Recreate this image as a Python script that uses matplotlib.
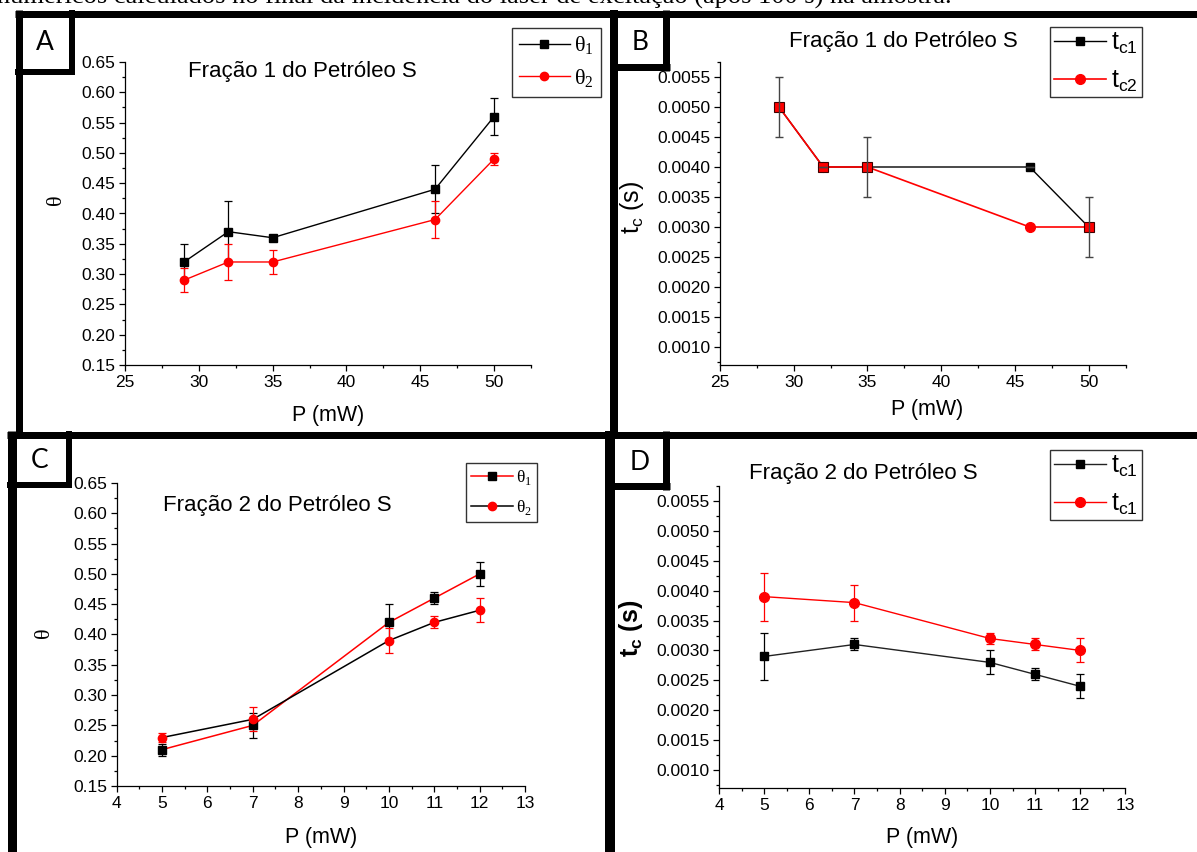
import matplotlib
matplotlib.use("Agg")
import matplotlib.pyplot as plt
from matplotlib.ticker import MultipleLocator, FormatStrFormatter

W, H = 1197, 852

# Fração 1 - theta
P1 = [29, 32, 35, 46, 50]
theta1_f1 = [0.32, 0.37, 0.36, 0.44, 0.56]
theta1_f1_err = [0.03, 0.05, 0.0, 0.04, 0.03]
theta2_f1 = [0.29, 0.32, 0.32, 0.39, 0.49]
theta2_f1_err = [0.02, 0.03, 0.02, 0.03, 0.01]

# Fração 1 - tc
tc1_f1 = [0.0050, 0.0040, 0.0040, 0.0040, 0.0030]
tc1_f1_err = [0.0005, 0.0, 0.0005, 0.0, 0.0005]
tc2_f1 = [0.0050, 0.0040, 0.0040, 0.0030, 0.0030]

# Fração 2 - theta
P2 = [5, 7, 10, 11, 12]
theta1_f2 = [0.21, 0.25, 0.42, 0.46, 0.50]
theta1_f2_err = [0.01, 0.02, 0.03, 0.01, 0.02]
theta2_f2 = [0.23, 0.26, 0.39, 0.42, 0.44]
theta2_f2_err = [0.008, 0.02, 0.02, 0.01, 0.02]

# Fração 2 - tc
tc1_f2 = [0.0029, 0.0031, 0.0028, 0.0026, 0.0024]
tc1_f2_err = [0.0004, 0.0001, 0.0002, 0.0001, 0.0002]
tc2_f2 = [0.0039, 0.0038, 0.0032, 0.0031, 0.0030]
tc2_f2_err = [0.0004, 0.0003, 0.0001, 0.0001, 0.0002]

plt.rcParams['font.family'] = ['Liberation Sans', 'DejaVu Sans']
RED = '#ff0000'
SERIF = ['Liberation Serif', 'DejaVu Serif']

fig = plt.figure(figsize=(W / 100, H / 100), dpi=100)


def add_panel(left, top, right, bottom):
    ax = fig.add_axes([left / W, 1 - bottom / H, (right - left) / W, (bottom - top) / H])
    ax._box = (left, top, right, bottom)
    return ax


def px_to_ax(ax, px, py):
    l, t, r, b = ax._box
    return (px - l) / (r - l), (b - py) / (b - t)


def style(ax, xlim, ylim, xmaj, ymaj, yfmt):
    ax.set_xlim(xlim)
    ax.set_ylim(ylim)
    ax.xaxis.set_major_locator(MultipleLocator(xmaj))
    ax.xaxis.set_minor_locator(MultipleLocator(xmaj / 2))
    ax.yaxis.set_major_locator(MultipleLocator(ymaj))
    ax.yaxis.set_minor_locator(MultipleLocator(ymaj / 2))
    ax.yaxis.set_major_formatter(FormatStrFormatter(yfmt))
    ax.xaxis.set_major_formatter(FormatStrFormatter('%d'))
    for s in ['top', 'right']:
        ax.spines[s].set_visible(False)
    for s in ['left', 'bottom']:
        ax.spines[s].set_linewidth(0.9)
    ax.tick_params(which='major', direction='out', length=4, width=0.9, labelsize=12.5, pad=3)
    ax.tick_params(which='minor', direction='out', length=2.5, width=0.9)
    ax.patch.set_alpha(0)


def labels(ax, xl_pos, yl_text, yl_pos, yl_family=None, yl_size=15, yl_weight='normal'):
    ax.set_xlabel('P (mW)', fontsize=15.5, va='center', ha='center')
    ax.xaxis.set_label_coords(*px_to_ax(ax, *xl_pos))
    kw = {}
    if yl_family:
        kw['family'] = yl_family
    ax.set_ylabel(yl_text, fontsize=yl_size, va='center', ha='center', weight=yl_weight, **kw)
    ax.yaxis.set_label_coords(*px_to_ax(ax, *yl_pos))


def legend(ax, x0, y0, size, family=None, **kw):
    prop = {'size': size}
    if family:
        prop['family'] = family
    lg = ax.legend(loc='upper left', bbox_to_anchor=(x0 / W, 1 - y0 / H),
                   bbox_transform=fig.transFigure, borderaxespad=0, frameon=True,
                   fancybox=False, edgecolor='#333333', framealpha=1, prop=prop, **kw)
    lg.get_frame().set_linewidth(1.0)
    return lg


# ---------- A ----------
axA = add_panel(125, 62, 531, 365)
style(axA, (25, 52.5), (0.15, 0.65), 5, 0.05, '%.2f')
axA.errorbar(P1, theta1_f1, yerr=theta1_f1_err, fmt='none', ecolor='black', elinewidth=0.9, capsize=3, capthick=0.9)
axA.errorbar(P1, theta2_f1, yerr=theta2_f1_err, fmt='none', ecolor=RED, elinewidth=0.9, capsize=3, capthick=0.9)
axA.plot(P1, theta1_f1, color='black', lw=1.0, marker='s', ms=5.5, label='θ$_\\mathregular{1}$')
axA.plot(P1, theta2_f1, color=RED, lw=1.0, marker='o', ms=6, label='θ$_\\mathregular{2}$')
labels(axA, (328, 416), 'θ', (57, 200), SERIF, yl_size=16)
legend(axA, 512, 28, 16, SERIF, handlelength=2.3, handletextpad=0.2, labelspacing=0.45,
       borderpad=0.3)

# ---------- B ----------
axB = add_panel(720, 62, 1125.5, 365)
style(axB, (25, 52.5), (0.0007, 0.00575), 5, 0.0005, '%.4f')
axB.plot(P1, tc1_f1, color='black', lw=1.0, marker='s', ms=6, label='t$_\\mathregular{c1}$')
axB.plot(P1, tc2_f1, color=RED, lw=1.2, marker='o', ms=7, label='t$_\\mathregular{c2}$')
same = [i for i in range(len(P1)) if tc1_f1[i] == tc2_f1[i]]
axB.plot([P1[i] for i in same], [tc1_f1[i] for i in same], ls='none', marker='s', ms=7,
         mfc=RED, mec='#400000', mew=0.8)
axB.errorbar(P1, tc1_f1, yerr=tc1_f1_err, fmt='none', ecolor='#444444', elinewidth=1.0, capsize=3, capthick=1.0)
labels(axB, (927.5, 409), 't$_\\mathregular{c}$ (s)', (632, 207), yl_size=18)
legend(axB, 1050, 27, 18, handlelength=2.1, handletextpad=0.2, labelspacing=0.5, borderpad=0.15)

# ---------- C ----------
axC = add_panel(116.7, 483, 525, 786)
style(axC, (4, 13), (0.15, 0.65), 1, 0.05, '%.2f')
axC.errorbar(P2, theta1_f2, yerr=theta1_f2_err, fmt='none', ecolor='black', elinewidth=0.9, capsize=3, capthick=0.9)
axC.errorbar(P2, theta2_f2, yerr=theta2_f2_err, fmt='none', ecolor=RED, elinewidth=0.9, capsize=3, capthick=0.9)
axC.plot(P2, theta1_f2, color=RED, lw=1.1, marker='s', ms=5.5, mfc='black', mec='black', label='θ$_\\mathregular{1}$')
axC.plot(P2, theta2_f2, color='black', lw=1.1, marker='o', ms=6, mfc=RED, mec=RED, label='θ$_\\mathregular{2}$')
labels(axC, (321, 837), 'θ', (44, 633), SERIF, yl_size=16)
legend(axC, 466, 463, 12.5, SERIF, handlelength=2.4, handletextpad=0.2, labelspacing=0.6, borderpad=0.3)

# ---------- D ----------
axD = add_panel(719, 486, 1125.4, 788)
style(axD, (4, 13), (0.0007, 0.00575), 1, 0.0005, '%.4f')
axD.errorbar(P2, tc1_f2, yerr=tc1_f2_err, fmt='none', ecolor='black', elinewidth=0.9, capsize=3, capthick=0.9)
axD.errorbar(P2, tc2_f2, yerr=tc2_f2_err, fmt='none', ecolor=RED, elinewidth=0.9, capsize=3, capthick=0.9)
axD.plot(P2, tc1_f2, color='#222222', lw=1.0, marker='s', ms=6, mfc='black', mec='black', label='t$_\\mathregular{c1}$')
axD.plot(P2, tc2_f2, color=RED, lw=1.0, marker='o', ms=7, label='t$_\\mathregular{c1}$')
labels(axD, (922, 838), 't$_\\mathregular{c}$ (s)', (630.6, 628), yl_size=18, yl_weight='bold')
legend(axD, 1050, 450, 18, handlelength=2.1, handletextpad=0.2, labelspacing=0.5, borderpad=0.15)

# ---------- overlay: frames, panel letters, titles, caption ----------
over = fig.add_axes([0, 0, 1, 1], zorder=10)
over.set_xlim(0, W)
over.set_ylim(H, 0)
over.axis('off')
over.patch.set_visible(False)


def bar(x0, y0, x1, y1, px):
    over.plot([x0, x1], [y0, y1], color='black', lw=px * 0.72, solid_capstyle='butt')


bar(15, 13.5, W, 13.5, 7)        # top line
bar(18.5, 10, 18.5, 434, 7)      # left of A
bar(614, 10, 614, 434, 8)        # A | B
bar(7, 434.5, W, 434.5, 7)       # middle line
bar(12, 431, 12, H, 9)           # left of C
bar(610, 431, 610, H, 10)        # C | D
# letter boxes
bar(72, 10, 72, 75, 6)
bar(15, 72, 75, 72, 6)
bar(666, 10, 666, 71, 7)
bar(610, 67, 670, 67, 7)
bar(68.5, 431, 68.5, 488, 6)
bar(7, 485, 72, 485, 6)
bar(666, 431, 666, 490, 7)
bar(605, 486, 670, 486, 7)

for lt, (x, y) in zip('ABCD', [(45, 43), (640, 43), (40, 461), (640, 462)]):
    over.text(x, y, lt, fontsize=19, ha='center', va='center', family=['Lato', 'DejaVu Sans'])

titles = ['Fração 1 do Petróleo S', 'Fração 1 do Petróleo S',
          'Fração 2 do Petróleo S', 'Fração 2 do Petróleo S']
for t, (x, y) in zip(titles, [(302.5, 72), (903, 42), (277, 506), (863, 473)]):
    over.text(x, y, t, fontsize=16, ha='center', va='center')

# caption of the source document, cut off at the top edge as in the original
over.text(-3, 4, 'numéricos calculados no final da incidência do laser de excitação (após 100 s) na amostra.',
          fontsize=19, family=SERIF, ha='left', va='baseline')

fig.savefig('out.png', dpi=100)
